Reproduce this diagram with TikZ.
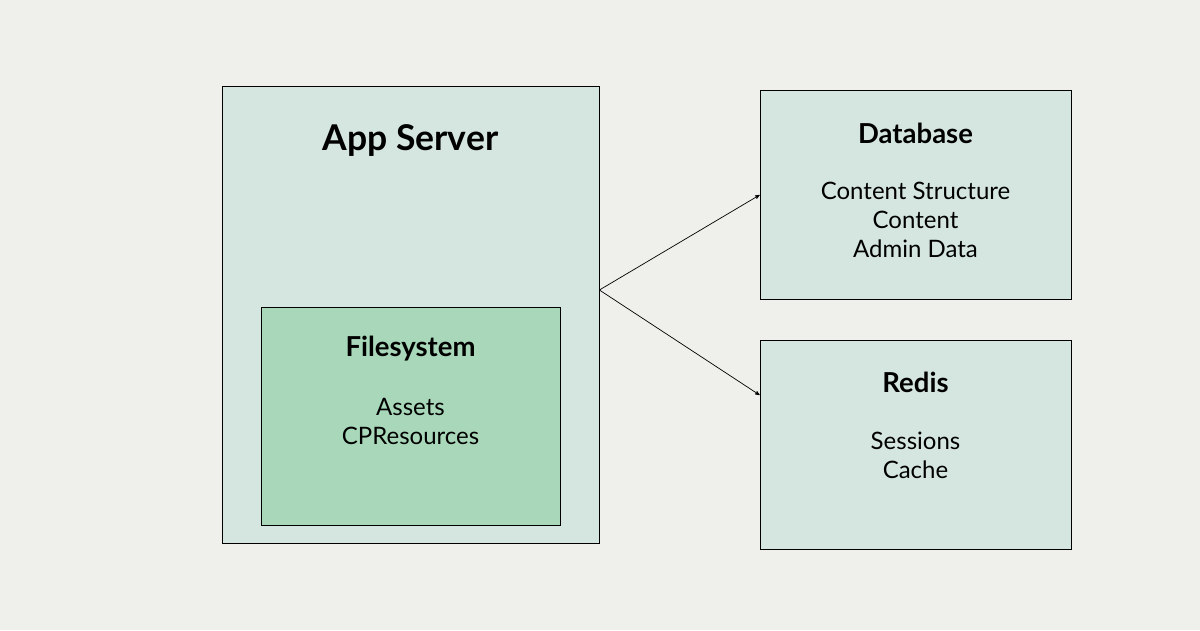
\documentclass[tikz,border=0pt]{standalone}
\usepackage{fontspec}
\setmainfont{Lato}
\usepackage{xcolor}
\usepgflibrary{arrows}
\definecolor{bgc}{HTML}{EFEFEB}
\definecolor{boxc}{HTML}{D5E6E0}
\definecolor{fsc}{HTML}{A8D8B9}
\tikzstyle{arr}=[->,>=stealth',line width=0.7pt]

\begin{document}
\begin{tikzpicture}[x=1pt,y=-1pt]
  \tikzstyle bx=[draw=black,line width=0.8pt,fill=boxc,inner sep=0pt];
  \tikzstyle ttl=[font=\bfseries\fontsize{27.5}{32}\selectfont];
  \tikzstyle txt=[font=\fontsize{24}{29}\selectfont,align=center];

  % background
  \fill[bgc] (0,0) rectangle (1200,630);
  \useasboundingbox (0,0) rectangle (1200,630);

  % boxes
  \node[bx,minimum width=377pt,minimum height=457pt] (app) at (410.5,314.5) {};
  \node[bx,fill=fsc,minimum width=299pt,minimum height=218pt] (fs) at (410.5,416) {};
  \node[bx,minimum width=311pt,minimum height=209pt] (db) at (915.5,194.5) {};
  \node[bx,minimum width=311pt,minimum height=209pt] (redis) at (915.5,444.5) {};

  % text
  \node[font=\bfseries\fontsize{35.5}{40}\selectfont] (apptitle) at (410.5,140) {App Server};
  \node[ttl] (fstitle) at (410.5,349) {Filesystem};
  \node[txt] (fstext) at (410.5,421.5) {Assets\\CPResources};
  \node[ttl] (dbtitle) at (915.5,133) {Database};
  \node[txt] (dbtext) at (915.5,220) {Content Structure\\Content\\Admin Data};
  \node[ttl] (redistitle) at (915.5,382) {Redis};
  \node[txt] (redistext) at (915.5,455.5) {Sessions\\Cache};

  % connectors
  \coordinate (fork) at (app.east |- 0,290);
  \coordinate (dbin) at (db.west |- 0,195);
  \coordinate (redisin) at (redis.west |- 0,395);
  \draw[arr] (fork) -- (dbin);
  \draw[arr] (fork) -- (redisin);
\end{tikzpicture}
\end{document}
